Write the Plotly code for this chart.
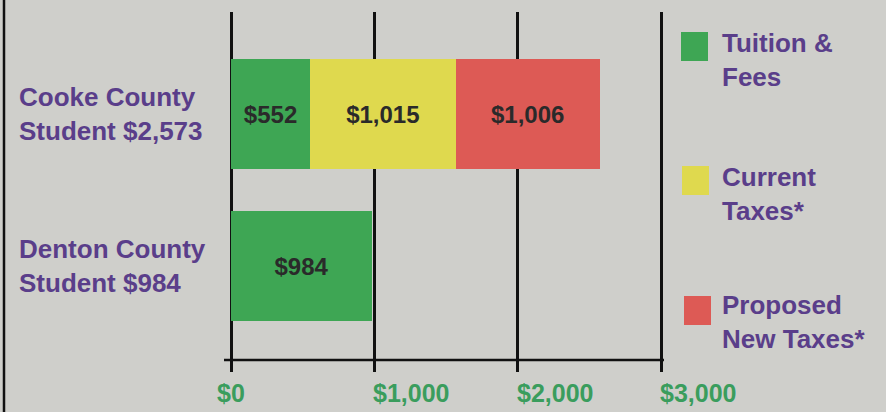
import plotly.graph_objects as go

# ---- data ----
categories = ["Cooke", "Denton"]
category_labels = ["Cooke County<br>Student $2,573", "Denton County<br>Student $984"]
tuition_fees = [552, 984]
current_taxes = [1015, None]
proposed_taxes = [1006, None]
series_names = ["Tuition &<br>Fees", "Current<br>Taxes*", "Proposed<br>New Taxes*"]
tick_values = [0, 1000, 2000, 3000]
tick_labels = ["$0", "$1,000", "$2,000", "$3,000"]

# ---- style ----
W, H = 886, 412
ML, MR, MT, MB = 224, 216, 12, 40
PW, PH = W - ML - MR, H - MT - MB
FONT = "Liberation Sans"
BG = "#cfcfcb"
GREEN = "#3ea654"
YELLOW = "#dfd94e"
RED = "#dd5a55"
PURPLE = "#5a3e8a"
TICKGREEN = "#3a9d5d"
colors = [GREEN, YELLOW, RED]


def px_x(p):
    return (p - ML) / PW


def px_y(p):
    return (H - MB - p) / PH


def fmt(v):
    return None if v is None else f"${v:,}"


fig = go.Figure()
for name, vals, col in zip(series_names, [tuition_fees, current_taxes, proposed_taxes], colors):
    fig.add_trace(go.Bar(
        y=categories, x=vals, orientation="h", name=name,
        marker=dict(color=col, line=dict(width=0)),
        text=[fmt(v) for v in vals], textposition="inside",
        insidetextanchor="middle",
        textfont=dict(family=FONT, size=24, color="#2a2a2a", weight="bold"),
        width=0.72, showlegend=False, hoverinfo="skip",
    ))

# category labels
for cat, lab in zip(categories, category_labels):
    fig.add_annotation(x=px_x(17), xref="paper", xanchor="left", y=cat, yref="y",
                       text=lab, showarrow=False, align="left",
                       font=dict(family=FONT, size=26, color=PURPLE, weight="bold"))

# x tick labels
for v, lab in zip(tick_values, tick_labels):
    fig.add_annotation(x=v, xref="x", y=px_y(393), yref="paper", yanchor="middle",
                       xanchor="center" if v == 0 else "left",
                       xshift=0 if v == 0 else -3,
                       text=lab, showarrow=False,
                       font=dict(family=FONT, size=25, color=TICKGREEN, weight="bold"))

# legend (manual)
leg_sw = [(681, 32), (682, 166), (684, 296)]
leg_tx = [60, 194, 322]
for (sx, sy), ty, name, col in zip(leg_sw, leg_tx, series_names, colors):
    fig.add_shape(type="rect", xref="paper", yref="paper",
                  x0=px_x(sx), x1=px_x(sx + 27), y0=px_y(sy + 29), y1=px_y(sy),
                  fillcolor=col, line=dict(width=0))
    fig.add_annotation(x=px_x(720), xref="paper", xanchor="left",
                       y=px_y(ty), yref="paper", yanchor="middle",
                       text=name, showarrow=False, align="left",
                       font=dict(family=FONT, size=26, color=PURPLE, weight="bold"))

# horizontal axis line
fig.add_shape(type="line", xref="paper", yref="paper",
              x0=px_x(224), x1=px_x(664), y0=px_y(360), y1=px_y(360),
              line=dict(color="#111111", width=2.5))
# left frame line
fig.add_shape(type="line", xref="paper", yref="paper",
              x0=px_x(4), x1=px_x(4), y0=px_y(0), y1=px_y(H),
              line=dict(color="#111111", width=2.5))

x0v = -7 / (430 / 3000)
fig.update_layout(
    width=W, height=H, barmode="stack",
    margin=dict(l=ML, r=MR, t=MT, b=MB),
    paper_bgcolor=BG, plot_bgcolor=BG,
    xaxis=dict(range=[x0v, x0v + PW * 3000 / 430], tickvals=tick_values,
               showticklabels=False, showgrid=True, gridcolor="#111111",
               gridwidth=2.5, zeroline=False, showline=False, fixedrange=True),
    yaxis=dict(type="category", categoryarray=categories, categoryorder="array",
               range=[1 + 106 / 152, -102 / 152], showticklabels=False,
               showgrid=False, zeroline=False, showline=False),
    uniformtext=dict(mode=False),
)

fig.write_html("out.html")
